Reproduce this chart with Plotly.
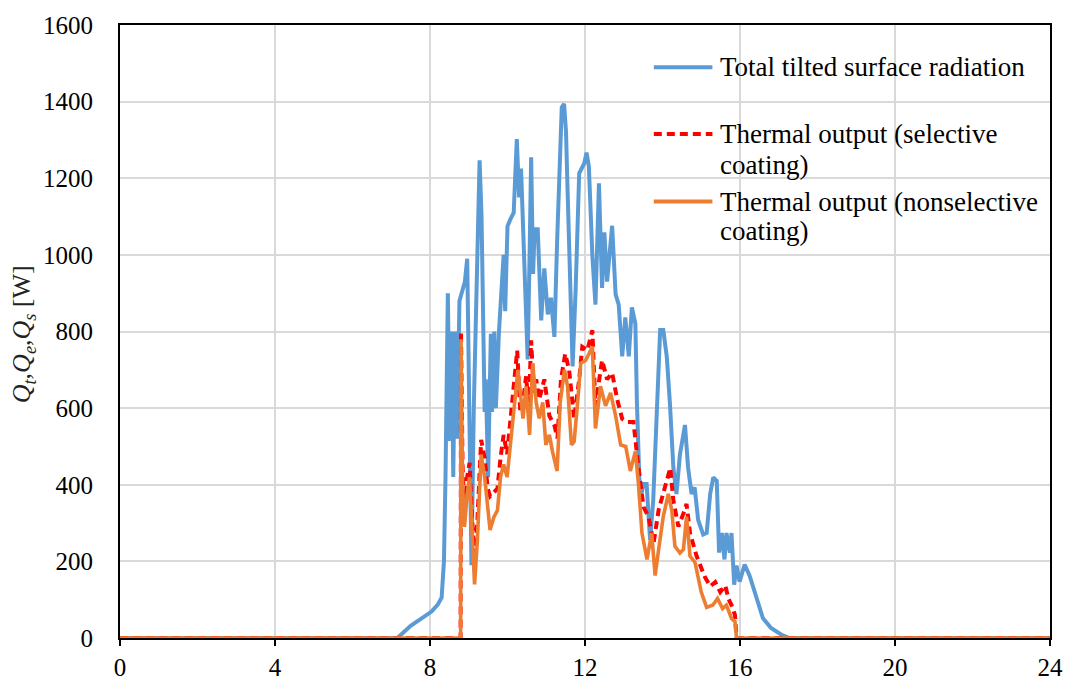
import plotly.graph_objects as go

# Time of day [h] and total tilted surface radiation [W]
t_rad = [0, 7.16, 7.5, 7.78, 8.04, 8.2, 8.3, 8.36, 8.40, 8.46, 8.51, 8.56, 8.60, 8.65, 8.70,
         8.76, 8.83, 8.90, 8.96, 9.02, 9.07, 9.13, 9.18, 9.23, 9.28, 9.33, 9.38, 9.41, 9.44,
         9.50, 9.57, 9.60, 9.66, 9.70, 9.78, 9.84, 9.90, 9.94, 10.00, 10.07, 10.16, 10.24,
         10.30, 10.35, 10.44, 10.52, 10.57, 10.61, 10.66, 10.70, 10.78, 10.87, 10.95, 11.04,
         11.12, 11.21, 11.28, 11.34, 11.40, 11.46, 11.51, 11.55, 11.64, 11.68, 11.76, 11.85,
         11.98, 12.04, 12.10, 12.19, 12.27, 12.36, 12.44, 12.50, 12.57, 12.70, 12.79, 12.87,
         12.96, 13.04, 13.13, 13.21, 13.30, 13.34, 13.42, 13.51, 13.59, 13.68, 13.76, 13.85,
         13.94, 14.02, 14.11, 14.19, 14.28, 14.36, 14.45, 14.58, 14.66, 14.75, 14.83, 14.92,
         15.05, 15.14, 15.23, 15.31, 15.40, 15.46, 15.53, 15.60, 15.65, 15.74, 15.78, 15.85,
         15.91, 15.99, 16.12, 16.25, 16.42, 16.59, 16.80, 17.06, 17.27, 24]
q_rad = [0, 0, 32, 52, 69, 87, 105, 200, 420, 900, 514, 800, 420, 800, 520,
         880, 906, 930, 990, 450, 190, 600, 850, 1100, 1247, 1100, 850, 590, 675,
         420, 794, 590, 800, 600, 800, 914, 1000, 853, 1075, 1092, 1110, 1302,
         1150, 1225, 948, 727, 1000, 1255, 950, 1067, 1067, 829, 965, 845,
         888, 786, 1034, 1255, 1385, 1394, 1321, 1170, 829, 709, 914, 1213,
         1239, 1267, 1230, 998, 870, 1187, 914, 1059, 930, 1076, 897, 870,
         735, 837, 735, 863, 820, 615, 358, 402, 402, 256, 358, 573,
         804, 804, 735, 615, 445, 376, 479, 556, 445, 376, 393, 308,
         270, 274, 376, 419, 410, 223, 274, 205, 274, 223, 274, 139,
         189, 147, 192, 162, 103, 52, 26, 9, 0, 0]

# Thermal output, selective coating [W]
t_sel = [0, 8.79, 8.80, 8.84, 8.89, 8.96, 9.02, 9.08, 9.15, 9.22, 9.32, 9.41, 9.49, 9.55,
         9.65, 9.74, 9.82, 9.90, 9.99, 10.08, 10.16, 10.25, 10.33, 10.40, 10.48, 10.55,
         10.61, 10.68, 10.74, 10.82, 10.95, 11.08, 11.21, 11.29, 11.38, 11.49, 11.59, 11.72,
         11.85, 11.93, 12.06, 12.19, 12.27, 12.44, 12.57, 12.70, 12.83, 12.96, 13.08, 13.25,
         13.38, 13.51, 13.64, 13.77, 13.90, 14.07, 14.20, 14.28, 14.41, 14.54, 14.62, 14.71,
         14.88, 15.09, 15.23, 15.36, 15.49, 15.62, 15.70, 15.78, 15.87, 15.91, 24]
q_sel = [0, 0, 800, 450, 330, 420, 457, 320, 220, 300, 517, 470, 390, 370,
         380, 390, 470, 530, 480, 573, 650, 750, 590, 615, 683, 600,
         777, 640, 675, 623, 675, 580, 555, 521, 675, 742, 700, 572,
         675, 760, 751, 803, 606, 725, 675, 692, 623, 572, 564, 564,
         444, 342, 316, 248, 334, 393, 444, 359, 291, 325, 350, 274,
         214, 160, 135, 146, 120, 137, 103, 86, 60, 0, 0]

# Thermal output, nonselective coating [W]
t_non = [0, 8.79, 8.80, 8.84, 8.89, 8.96, 9.02, 9.08, 9.15, 9.22, 9.32, 9.41, 9.49, 9.55,
         9.65, 9.74, 9.82, 9.90, 9.99, 10.08, 10.16, 10.27, 10.40, 10.48, 10.57, 10.65,
         10.74, 10.82, 10.91, 10.99, 11.08, 11.16, 11.28, 11.36, 11.47, 11.55, 11.65, 11.72,
         11.81, 11.89, 12.02, 12.10, 12.19, 12.27, 12.40, 12.53, 12.66, 12.79, 12.92, 13.05,
         13.17, 13.30, 13.38, 13.47, 13.60, 13.72, 13.81, 13.90, 14.02, 14.15, 14.24, 14.32,
         14.45, 14.54, 14.62, 14.71, 14.84, 15.00, 15.14, 15.30, 15.42, 15.55, 15.65, 15.78,
         15.87, 15.91, 24]
q_non = [0, 0, 780, 400, 290, 376, 420, 290, 140, 250, 479, 420, 333, 282,
         316, 333, 420, 453, 420, 505, 590, 700, 573, 657, 530, 717,
         615, 573, 615, 504, 530, 487, 436, 615, 700, 657, 504, 513,
         615, 717, 725, 743, 760, 547, 657, 606, 640, 580, 504, 500,
         436, 487, 402, 274, 205, 274, 163, 231, 317, 376, 333, 240,
         222, 231, 317, 214, 197, 120, 80, 86, 103, 77, 86, 51,
         43, 0, 0]

x_ticks = [0, 4, 8, 12, 16, 20, 24]
y_ticks = [0, 200, 400, 600, 800, 1000, 1200, 1400, 1600]

series_names = ["Total tilted surface radiation",
                "Thermal output (selective coating)",
                "Thermal output (nonselective coating)"]

C_BLUE = "#5B9BD5"
C_RED = "#FF0000"
C_ORANGE = "#ED7D31"
FONT = "Liberation Serif"

fig = go.Figure()
fig.add_trace(go.Scatter(x=t_rad, y=q_rad, mode="lines", name=series_names[0],
                         line=dict(color=C_BLUE, width=4), showlegend=False))
fig.add_trace(go.Scatter(x=t_sel, y=q_sel, mode="lines", name=series_names[1],
                         line=dict(color=C_RED, width=4, dash="8px,5px"), showlegend=False))
fig.add_trace(go.Scatter(x=t_non, y=q_non, mode="lines", name=series_names[2],
                         line=dict(color=C_ORANGE, width=3.6), showlegend=False))

# custom legend (paper coordinates)
leg = [(0.931, C_BLUE, "solid", [(0.931, "Total tilted surface radiation")]),
       (0.822, C_RED, "dash", [(0.822, "Thermal output (selective"), (0.771, "coating)")]),
       (0.712, C_ORANGE, "solid", [(0.712, "Thermal output (nonselective"), (0.664, "coating)")])]
for ly, col, dash, texts in leg:
    fig.add_shape(type="line", xref="paper", yref="paper", x0=0.574, x1=0.637, y0=ly, y1=ly,
                  line=dict(color=col, width=4, dash=dash if dash == "solid" else "8px,5px"))
    for ty, txt in texts:
        fig.add_annotation(xref="paper", yref="paper", x=0.643, y=ty, text=txt, showarrow=False,
                           xanchor="left", yanchor="middle",
                           font=dict(family=FONT, size=27, color="black"))

fig.add_annotation(xref="paper", yref="paper", x=-0.104, y=0.496, textangle=-90,
                   text="<i>Q<sub>t</sub></i>,<i>Q<sub>e</sub></i>,<i>Q<sub>s</sub></i> [W]",
                   showarrow=False, xanchor="center", yanchor="middle",
                   font=dict(family=FONT, size=26, color="#222"))

fig.update_layout(
    width=1075, height=693,
    margin=dict(l=120, r=21, t=22, b=46),
    paper_bgcolor="white", plot_bgcolor="white",
    font=dict(family=FONT, size=25, color="black"),
    xaxis=dict(range=[0, 24], tickvals=x_ticks, ticktext=[str(v) for v in x_ticks],
               showgrid=True, gridcolor="#D9D9D9", gridwidth=1.5, zeroline=False,
               showline=True, linecolor="black", linewidth=2, mirror=True,
               ticks="outside", ticklen=6, tickwidth=2, tickcolor="black",
               tickfont=dict(family=FONT, size=25, color="black"), layer="below traces"),
    yaxis=dict(range=[0, 1600], tickvals=y_ticks, ticktext=[str(v) for v in y_ticks],
               showgrid=True, gridcolor="#D9D9D9", gridwidth=1.5, zeroline=False,
               showline=True, linecolor="black", linewidth=2, mirror=True,
               ticks="", ticklabelstandoff=20,
               tickfont=dict(family=FONT, size=25, color="black"), layer="below traces"),
)

fig.write_html("out.html")
